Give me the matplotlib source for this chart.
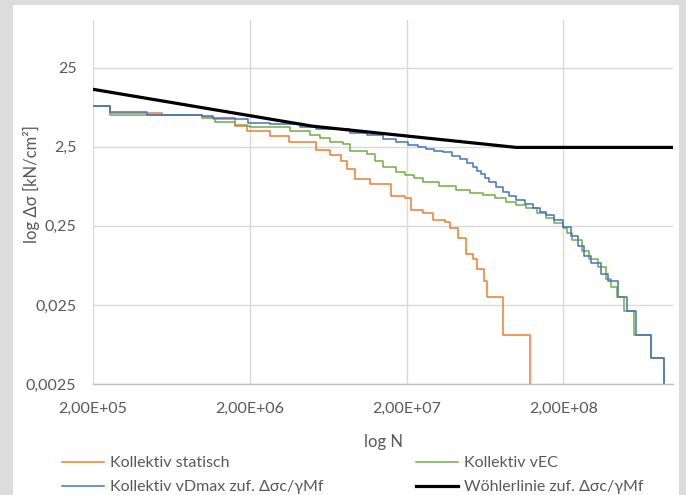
import matplotlib
matplotlib.use("Agg")
import matplotlib.pyplot as plt
from matplotlib.patches import Rectangle
from matplotlib.lines import Line2D
from matplotlib.ticker import FixedLocator, FixedFormatter, NullLocator

plt.rcParams['font.family'] = ['Lato', 'DejaVu Sans']

# Kollektiv statisch
n_statisch = [2.0e5, 2.57e5, 5.48e5, 9.85e5, 1.16e6, 1.61e6, 1.91e6, 2.68e6, 3.54e6, 5.32e6,
              6.46e6, 7.68e6, 8.30e6, 9.33e6, 1.16e7, 1.60e7, 1.94e7, 2.14e7, 2.54e7, 2.94e7,
              3.49e7, 3.76e7, 4.25e7, 4.80e7, 5.29e7, 5.61e7, 6.19e7, 6.49e7, 8.21e7, 1.23e8]
s_statisch = [8.14, 6.59, 6.22, 5.95, 5.55, 4.75, 4.0, 3.43, 2.83, 2.29,
              1.97, 1.67, 1.32, 0.986, 0.855, 0.598, 0.555, 0.396, 0.366, 0.297,
              0.278, 0.234, 0.175, 0.109, 0.094, 0.072, 0.0503, 0.0312, 0.0103, 0.001]

# Kollektiv vEC
n_vec = [2.0e5, 2.57e5, 9.85e5, 1.20e6, 1.61e6, 2.0e6, 3.60e6, 4.82e6, 5.58e6, 6.46e6,
         7.82e6, 8.67e6, 1.11e7, 1.25e7, 1.41e7, 1.72e7, 1.94e7, 2.22e7, 2.53e7, 3.24e7,
         4.15e7, 5.04e7, 6.10e7, 7.28e7, 8.63e7, 1.00e8, 1.16e8, 1.35e8, 1.55e8, 1.75e8,
         1.98e8, 2.12e8, 2.28e8, 2.64e8, 2.93e8, 3.30e8, 3.74e8, 4.03e8, 4.42e8, 4.89e8,
         5.67e8, 7.24e8, 8.71e8]
s_vec = [8.14, 6.28, 5.81, 5.1, 4.58, 4.4, 3.96, 3.53, 3.18, 2.89,
         2.70, 2.23, 2.03, 1.67, 1.38, 1.19, 1.09, 0.995, 0.895, 0.79,
         0.705, 0.656, 0.61, 0.56, 0.503, 0.458, 0.416, 0.364, 0.312, 0.272,
         0.234, 0.203, 0.167, 0.119, 0.094, 0.0747, 0.0528, 0.0416, 0.0312, 0.0212,
         0.0103, 0.00528, 0.001]

# Kollektiv vDmax
n_vdmax = [2.0e5, 2.57e5, 4.40e5, 9.85e5, 1.16e6, 1.61e6, 1.95e6, 2.68e6, 4.16e6, 5.32e6,
           8.67e6, 1.11e7, 1.41e7, 1.72e7, 2.03e7, 2.35e7, 2.67e7, 3.01e7, 3.41e7, 3.87e7,
           4.36e7, 4.82e7, 5.29e7, 5.66e7, 5.98e7, 6.37e7, 6.75e7, 7.43e7, 8.21e7, 9.06e7,
           1.00e8, 1.13e8, 1.28e8, 1.41e8, 1.55e8, 1.75e8, 1.98e8, 2.24e8, 2.47e8, 2.72e8,
           3.00e8, 3.48e8, 3.83e8, 4.44e8, 5.06e8, 5.81e8, 7.24e8, 8.71e8]
s_vdmax = [8.14, 6.90, 6.22, 6.10, 5.71, 5.55, 4.94, 4.81, 4.49, 4.16,
           3.78, 3.50, 3.12, 2.89, 2.62, 2.47, 2.34, 2.23, 2.12, 1.93,
           1.75, 1.56, 1.38, 1.25, 1.14, 1.01, 0.895, 0.775, 0.671, 0.593,
           0.528, 0.471, 0.416, 0.378, 0.343, 0.293, 0.245, 0.184, 0.138, 0.103,
           0.0855, 0.061, 0.0503, 0.0315, 0.021, 0.0103, 0.00528, 0.001]

# Woehlerlinie
n_woehler = [2.0e5, 5.0e6, 1.0e8, 1.0e9]
s_woehler = [13.3, 4.55, 2.45, 2.45]

x_ticks = [2e5, 2e6, 2e7, 2e8]
x_tick_labels = ["2,00E+05", "2,00E+06", "2,00E+07", "2,00E+08"]
y_ticks = [0.0025, 0.025, 0.25, 2.5, 25]
y_tick_labels = ["0,0025", "0,025", "0,25", "2,5", "25"]

W, H = 686, 495
fig = plt.figure(figsize=(W / 100, H / 100), dpi=100, facecolor='#dcdcdc')
fig.patches.append(Rectangle((13 / W, 0), (679 - 13) / W, 1 - 5 / H, transform=fig.transFigure,
                             facecolor='white', edgecolor='none', zorder=-5))

ax = fig.add_axes([93 / W, 1 - 384 / H, (673 - 93) / W, (384 - 20) / H])
ax.set_zorder(2)
ax.set_facecolor('white')

c_orange = '#ED7D31'
c_blue = '#4472C4'
c_green = '#70AD47'

ax.plot(n_statisch, s_statisch, drawstyle='steps-post', color=c_orange, lw=1.1, label='Kollektiv statisch')
ax.plot(n_vec, s_vec, drawstyle='steps-post', color=c_green, lw=1.1, label='Kollektiv vEC')
ax.plot(n_vdmax, s_vdmax, drawstyle='steps-post', color=c_blue, lw=1.1, label='Kollektiv vDmax zuf. Δσc/γMf')
ax.plot(n_woehler, s_woehler, color='black', lw=2.3, label='Wöhlerlinie zuf. Δσc/γMf')

ax.set_xscale('log')
ax.set_yscale('log')
ax.set_xlim(2e5, 1e9)
ax.set_ylim(0.0025, 100)

ax.xaxis.set_major_locator(FixedLocator(x_ticks))
ax.xaxis.set_major_formatter(FixedFormatter(x_tick_labels))
ax.xaxis.set_minor_locator(NullLocator())
ax.yaxis.set_major_locator(FixedLocator(y_ticks))
ax.yaxis.set_major_formatter(FixedFormatter(y_tick_labels))
ax.yaxis.set_minor_locator(NullLocator())

ax.grid(True, color='#d9d9d9', lw=1.0)
ax.set_axisbelow(True)
for side in ['top', 'right', 'left']:
    ax.spines[side].set_visible(False)
ax.spines['bottom'].set_color('#bfbfbf')
ax.spines['bottom'].set_linewidth(1.0)
ax.tick_params(axis='both', length=0, labelsize=11.5, colors='#595959')
ax.tick_params(axis='x', pad=13)
ax.tick_params(axis='y', pad=12)

ax.set_xlabel('log N', fontsize=12, color='#595959')
ax.xaxis.set_label_coords(0.5, -0.136)
ax.set_ylabel('log Δσ [kN/cm²]', fontsize=12, color='#595959')
ax.yaxis.set_label_coords(-0.091, 0.55)

leg_kw = dict(loc='upper left', frameon=False, fontsize=11.5, handlelength=2.6, handletextpad=0.4,
              borderpad=0, borderaxespad=0, labelspacing=0.62, labelcolor='#595959')
handles = [Line2D([], [], color=c_orange, lw=1.1), Line2D([], [], color=c_blue, lw=1.1)]
fig.legend(handles, ['Kollektiv statisch', 'Kollektiv vDmax zuf. Δσc/γMf'],
           bbox_to_anchor=(62 / W, 1 - 456 / H), **leg_kw)
handles2 = [Line2D([], [], color=c_green, lw=1.1), Line2D([], [], color='black', lw=2.3)]
fig.legend(handles2, ['Kollektiv vEC', 'Wöhlerlinie zuf. Δσc/γMf'],
           bbox_to_anchor=(416 / W, 1 - 456 / H), **leg_kw)

fig.savefig('out.png', dpi=100, facecolor=fig.get_facecolor())
